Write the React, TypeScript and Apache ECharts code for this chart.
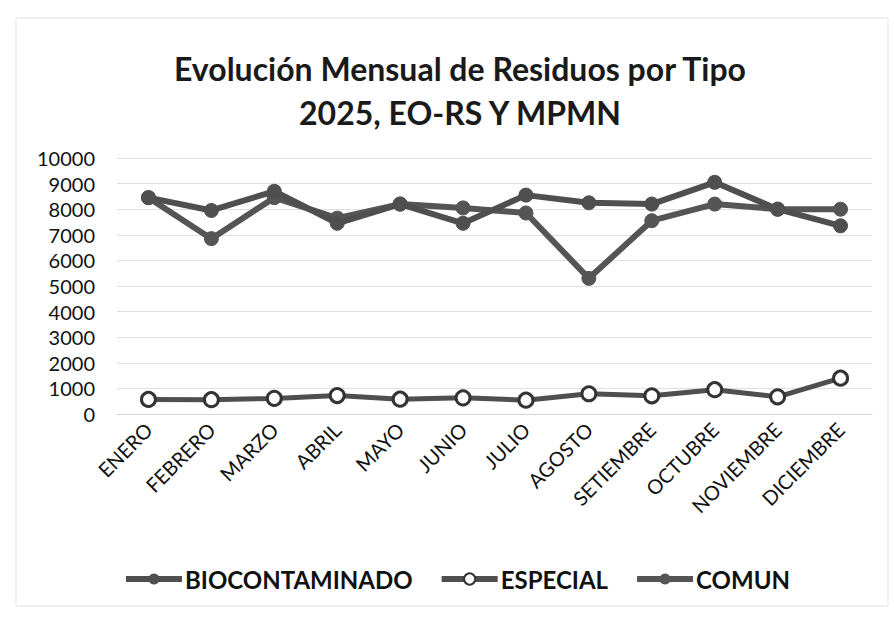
import React, { useEffect, useRef } from "react";
import * as echarts from "echarts";

const titleText = "Evolución Mensual de Residuos por Tipo\n2025, EO-RS Y MPMN";
const months = [
  "ENERO", "FEBRERO", "MARZO", "ABRIL", "MAYO", "JUNIO",
  "JULIO", "AGOSTO", "SETIEMBRE", "OCTUBRE", "NOVIEMBRE", "DICIEMBRE",
];
const biocontaminado = [8450, 7950, 8700, 7450, 8200, 7450, 8550, 8250, 8200, 9050, 8000, 7350];
const especial = [570, 560, 610, 720, 580, 630, 540, 790, 710, 950, 670, 1400];
const comun = [8450, 6850, 8450, 7650, 8200, 8050, 7850, 5300, 7550, 8200, 8000, 8000];
const yTicks = { min: 0, max: 10000, interval: 1000 };

const FONT = "Lato, 'Open Sans', sans-serif";
const DARK = "#4f4f4f";

export default function App() {
  const ref = useRef<HTMLDivElement>(null);
  useEffect(() => {
    document.body.style.margin = "0";
    const chart = echarts.init(ref.current!, null, { renderer: "svg" });
    chart.setOption({
      animation: false,
      backgroundColor: "#ffffff",
      title: {
        text: titleText,
        left: 455,
        textAlign: "center",
        top: 41,
        textStyle: {
          fontFamily: FONT,
          fontSize: 32,
          fontWeight: "bold",
          color: "#1a1a1a",
          lineHeight: 44,
        },
      },
      graphic: [
        {
          type: "rect",
          shape: { x: 16, y: 18, width: 872, height: 588 },
          style: { fill: "none", stroke: "#e2e2e2", lineWidth: 1 },
          silent: true,
        },
      ],
      legend: {
        top: 562,
        left: 118,
        itemWidth: 56,
        itemHeight: 14,
        itemGap: 26,
        lineStyle: { width: 6 },
        textStyle: { fontFamily: FONT, fontSize: 24, fontWeight: "bold", color: "#111", padding: [0, 0, 0, -2] },
        data: ["BIOCONTAMINADO", "ESPECIAL", "COMUN"],
      },
      grid: { left: 117, right: 22, top: 158, height: 256, containLabel: false },
      xAxis: {
        type: "category",
        data: months,
        boundaryGap: true,
        axisLine: { show: true, lineStyle: { color: "#d4d4d4", width: 1 } },
        axisTick: { show: false },
        axisLabel: {
          rotate: 45,
          margin: 12,
          fontFamily: FONT,
          fontSize: 20,
          color: "#111",
          interval: 0,
        },
      },
      yAxis: {
        type: "value",
        min: yTicks.min,
        max: yTicks.max,
        interval: yTicks.interval,
        axisLine: { show: false },
        axisTick: { show: false },
        splitLine: { lineStyle: { color: "#e0e0e0", width: 1 } },
        axisLabel: {
          fontFamily: FONT,
          fontSize: 20,
          color: "#111",
          margin: 22,
          formatter: (v: number) => String(v),
        },
      },
      series: [
        {
          name: "BIOCONTAMINADO",
          type: "line",
          data: biocontaminado,
          symbol: "circle",
          symbolSize: 14,
          lineStyle: { color: DARK, width: 6 },
          itemStyle: { color: DARK, borderColor: DARK },
          z: 3,
        },
        {
          name: "ESPECIAL",
          type: "line",
          data: especial,
          symbol: "circle",
          symbolSize: 14,
          lineStyle: { color: DARK, width: 5 },
          itemStyle: { color: "#ffffff", borderColor: "#333", borderWidth: 3 },
          z: 4,
        },
        {
          name: "COMUN",
          type: "line",
          data: comun,
          symbol: "circle",
          symbolSize: 14,
          lineStyle: { color: "#555555", width: 6 },
          itemStyle: { color: "#555555", borderColor: "#555555" },
          z: 2,
        },
      ],
    });
    return () => chart.dispose();
  }, []);
  return <div ref={ref} style={{ width: 894, height: 622 }} />;
}
